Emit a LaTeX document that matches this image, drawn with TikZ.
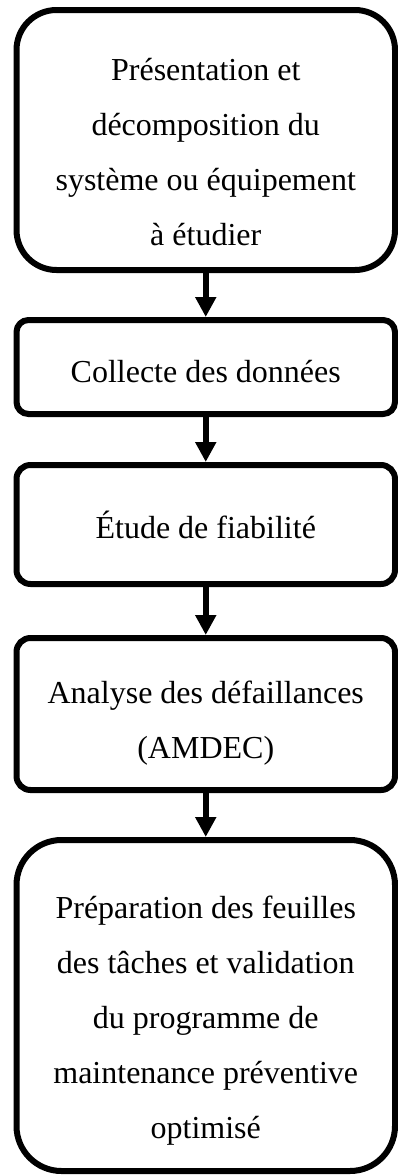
\documentclass[tikz,border=0pt]{standalone}
\usepackage{fontspec}
\setmainfont{Liberation Serif}
\usetikzlibrary{arrows.meta}
\tikzset{
  stagebox/.style={draw=black, line width=6pt, minimum width=378.5pt, inner sep=0pt},
  stagetxt/.style={align=center, inner sep=0pt, font=\fontsize{32pt}{55pt}\selectfont, anchor=base},
  flowarrow/.style={line width=6pt, -{Triangle[width=20pt,length=20pt]}},
}
\begin{document}
\begin{tikzpicture}[x=1pt,y=1pt]
\useasboundingbox (0,0) rectangle (398,-1175);
\node[stagebox, rounded corners=40pt, minimum height=260pt] (b1) at (205.75,-140) {};
\node[stagebox, rounded corners=12pt, minimum height=94pt] (b2) at (205.75,-367) {};
\node[stagebox, rounded corners=14pt, minimum height=119pt] (b3) at (205.75,-524.5) {};
\node[stagebox, rounded corners=14pt, minimum height=152pt] (b4) at (205.75,-714) {};
\node[stagebox, rounded corners=45pt, minimum height=331pt] (b5) at (205.75,-1005.5) {};
\node[stagetxt] (t1) at (205.75,-245) {Présentation et\\décomposition du\\système ou équipement\\à étudier};
\node[stagetxt] (t2) at (205.75,-382) {Collecte des données};
\node[stagetxt] (t3) at (205.75,-538) {Étude de fiabilité};
\node[stagetxt] (t4) at (205.75,-758) {Analyse des défaillances\\(AMDEC)};
\node[stagetxt] (t5) at (205.75,-1138) {Préparation des feuilles\\des tâches et validation\\du programme de\\maintenance préventive\\optimisé};
\draw[flowarrow] (b1.south) -- (b2.north);
\draw[flowarrow] (b2.south) -- (b3.north);
\draw[flowarrow] (b3.south) -- (b4.north);
\draw[flowarrow] (b4.south) -- (b5.north);
\end{tikzpicture}
\end{document}
